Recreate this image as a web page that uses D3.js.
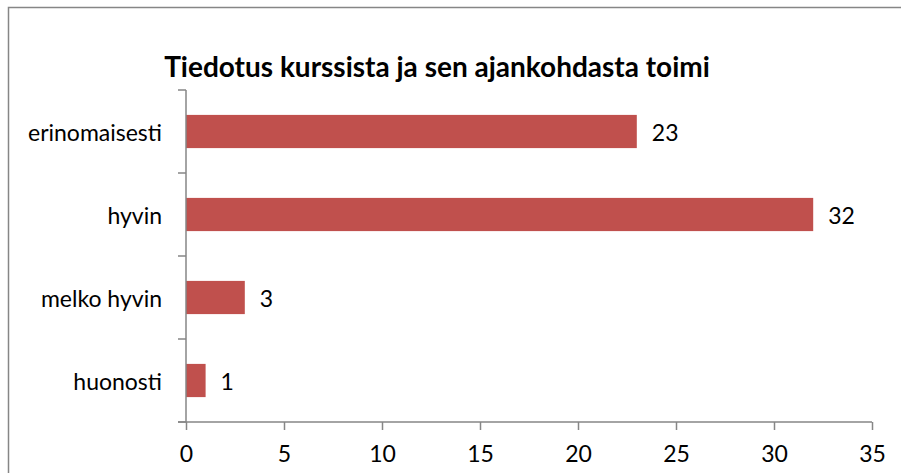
<!DOCTYPE html>
<html>
<head>
<meta charset="utf-8">
<script src="https://cdn.jsdelivr.net/npm/d3@7"></script>
<style>
body { margin: 0; background: #fff; }
text { font-family: Lato, "Open Sans", sans-serif; fill: #000; }
</style>
</head>
<body>
<figure style="margin:0"></figure>
<script>
const categories = ["erinomaisesti", "hyvin", "melko hyvin", "huonosti"]
const values = [23, 32, 3, 1]
const xTicks = [0, 5, 10, 15, 20, 25, 30, 35]
const title = "Tiedotus kurssista ja sen ajankohdasta toimi"

const svg = d3.select("figure").append("svg").attr("width", 901).attr("height", 473),
    margin = {top: 90, left: 186, right: 29, bottom: 51},
    width = 901 - margin.left - margin.right,
    height = 473 - margin.top - margin.bottom,
    chart = svg.append("g").attr("transform", `translate(${margin.left},${margin.top})`),
    x = d3.scaleLinear().domain([0, 35]).range([0, width]),
    y = d3.scaleBand().domain(categories).range([0, height]).paddingInner(0.6).paddingOuter(0.3),
    axisColor = "#868686",
    fontSize = "23px"

// outer chart border (runs off the right and bottom edge)
svg.append("rect")
    .attr("x", 8.5).attr("y", 7.5).attr("width", 1000).attr("height", 1000)
    .attr("fill", "none").attr("stroke", axisColor).attr("stroke-width", 1.5)

svg.append("text")
    .text(title)
    .attr("x", 437).attr("y", 77)
    .attr("text-anchor", "middle")
    .style("font-size", "28px").style("font-weight", 700)

chart.selectAll("rect.bar")
    .data(categories)
    .enter()
    .append("rect").classed("bar", true)
    .attr("x", 0)
    .attr("y", d => y(d))
    .attr("width", (d, i) => x(values[i]))
    .attr("height", y.bandwidth())
    .attr("fill", "#C0504D")

chart.selectAll("text.value")
    .data(categories)
    .enter()
    .append("text").classed("value", true)
    .text((d, i) => values[i])
    .attr("x", (d, i) => x(values[i]) + 15)
    .attr("y", d => y(d) + y.bandwidth() / 2)
    .attr("dominant-baseline", "central")
    .style("font-size", fontSize)

// y axis with ticks between categories
const yAxis = chart.append("g")
yAxis.append("line").attr("x1", 0).attr("x2", 0).attr("y1", 0).attr("y2", height)
    .attr("stroke", axisColor).attr("stroke-width", 1.5)
yAxis.selectAll("line.tick")
    .data(d3.range(categories.length + 1))
    .enter()
    .append("line").classed("tick", true)
    .attr("x1", -8).attr("x2", 0)
    .attr("y1", i => i * height / categories.length)
    .attr("y2", i => i * height / categories.length)
    .attr("stroke", axisColor).attr("stroke-width", 1.5)
yAxis.selectAll("text")
    .data(categories)
    .enter()
    .append("text")
    .text(d => d)
    .attr("x", -24)
    .attr("y", d => y(d) + y.bandwidth() / 2)
    .attr("text-anchor", "end")
    .attr("dominant-baseline", "central")
    .style("font-size", fontSize)

// x axis
const xAxis = chart.append("g").attr("transform", `translate(0,${height})`)
    .call(d3.axisBottom(x).tickValues(xTicks).tickSize(8).tickPadding(16))
xAxis.select(".domain").attr("stroke", axisColor).attr("stroke-width", 1.5).attr("d", `M-8,0H${width}`)
xAxis.selectAll(".tick line").attr("stroke", axisColor).attr("stroke-width", 1.5)
xAxis.selectAll(".tick text").style("font-size", fontSize).attr("font-family", null)
</script>
</body>
</html>
